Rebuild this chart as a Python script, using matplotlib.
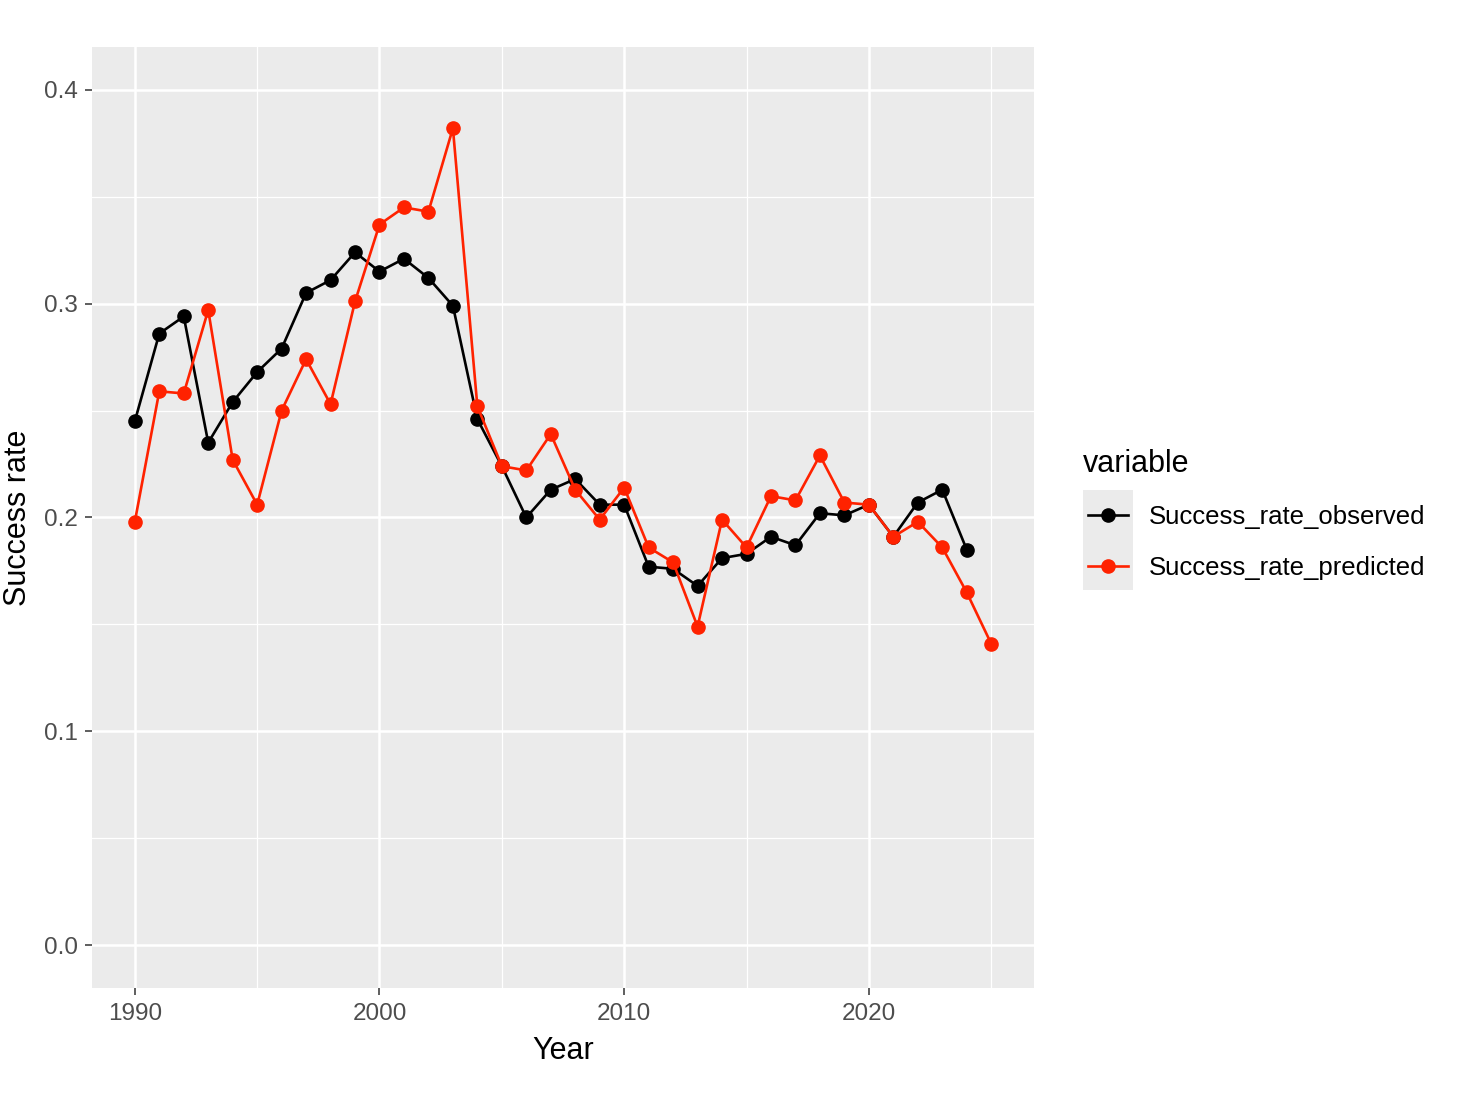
import matplotlib
matplotlib.use("Agg")
import matplotlib.pyplot as plt
from matplotlib.patches import Rectangle
from matplotlib.lines import Line2D
from matplotlib.legend_handler import HandlerLine2D
from matplotlib.ticker import MultipleLocator

plt.rcParams['font.family'] = ['Liberation Sans', 'DejaVu Sans']

years_obs = list(range(1990, 2025))
observed = [0.245, 0.286, 0.294, 0.235, 0.254, 0.268, 0.279, 0.305, 0.311, 0.324,
            0.315, 0.321, 0.312, 0.299, 0.246, 0.224, 0.200, 0.213, 0.218, 0.206,
            0.206, 0.177, 0.176, 0.168, 0.181, 0.183, 0.191, 0.187, 0.202, 0.201,
            0.206, 0.191, 0.207, 0.213, 0.185]
years_pred = list(range(1990, 2026))
predicted = [0.198, 0.259, 0.258, 0.297, 0.227, 0.206, 0.250, 0.274, 0.253, 0.301,
             0.337, 0.345, 0.343, 0.382, 0.252, 0.224, 0.222, 0.239, 0.213, 0.199,
             0.214, 0.186, 0.179, 0.149, 0.199, 0.186, 0.210, 0.208, 0.229, 0.207,
             0.206, 0.191, 0.198, 0.186, 0.165, 0.141]
series_names = ['Success_rate_observed', 'Success_rate_predicted']
series_colors = ['black', '#FF2200']

W, H = 1471, 1096
fig = plt.figure(figsize=(W / 100, H / 100), dpi=100)
ax = fig.add_axes([92 / W, 1 - 988 / H, (1034 - 92) / W, (988 - 47) / H])
ax.set_facecolor('#EBEBEB')
for s in ax.spines.values():
    s.set_visible(False)

ax.set_xlim(1988.25, 2026.75)
ax.set_ylim(-0.02, 0.42)
ax.xaxis.set_minor_locator(MultipleLocator(5))
ax.yaxis.set_minor_locator(MultipleLocator(0.05))
ax.set_yticks([0, 0.1, 0.2, 0.3, 0.4])
ax.set_yticklabels(['0.0', '0.1', '0.2', '0.3', '0.4'])
ax.set_xticks([1990, 2000, 2010, 2020])
ax.set_xticklabels(['1990', '2000', '2010', '2020'])
ax.grid(which='major', color='white', linewidth=1.8)
ax.grid(which='minor', color='white', linewidth=0.9)
ax.set_axisbelow(True)
ax.tick_params(which='major', length=5, width=1.1, color='#333333',
               labelsize=17.5, labelcolor='#4D4D4D')
ax.tick_params(axis='x', which='major', pad=6)
ax.tick_params(axis='y', which='major', pad=5)
ax.tick_params(which='minor', length=0)

ax.plot(years_obs, observed, color=series_colors[0], lw=1.9, marker='o',
        markersize=9.5, label=series_names[0])
ax.plot(years_pred, predicted, color=series_colors[1], lw=1.9, marker='o',
        markersize=9.5, label=series_names[1])

ax.set_xlabel('Year', fontsize=22, labelpad=8)
ax.set_ylabel('Success rate', fontsize=22, labelpad=8)

# legend key background
fig.patches.append(Rectangle((1083 / W, 1 - 590 / H), 50 / W, 100 / H,
                             transform=fig.transFigure, facecolor='#EBEBEB',
                             edgecolor='none', zorder=-1))
leg = ax.legend(loc='upper left', bbox_to_anchor=(1078 / W, 1 - 444 / H),
                bbox_transform=fig.transFigure, frameon=False,
                title='variable', title_fontsize=22, fontsize=18.5,
                handlelength=1.755, handletextpad=0.82, labelspacing=1.02,
                alignment='left', borderpad=0.2, borderaxespad=0,
                handler_map={Line2D: HandlerLine2D(xpad=0.195)})

fig.savefig('out.png', dpi=100, facecolor='white')
